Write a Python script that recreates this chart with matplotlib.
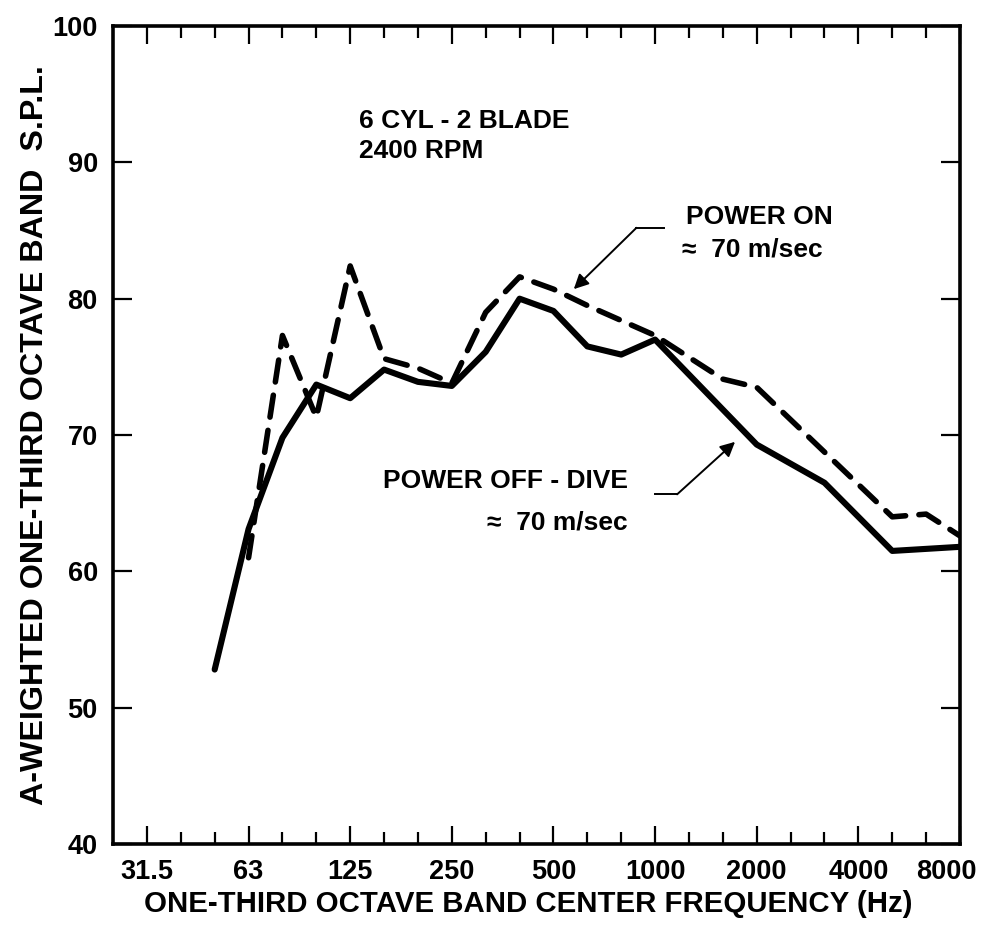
import matplotlib
matplotlib.use("Agg")
import matplotlib.pyplot as plt
from matplotlib.transforms import ScaledTranslation

# one-third octave band centres (Hz), one x slot each
bands = ["31.5", "40", "50", "63", "80", "100", "125", "160", "200", "250",
         "315", "400", "500", "630", "800", "1000", "1250", "1600", "2000",
         "2500", "3150", "4000", "5000", "6300", "8000"]
labelled_bands = ["31.5", "63", "125", "250", "500", "1000", "2000", "4000", "8000"]

# POWER OFF - DIVE (solid)
off_bands = ["50", "63", "80", "100", "125", "160", "200", "250", "315", "400",
             "500", "630", "800", "1000", "2000", "3150", "5000", "8000"]
off_spl = [52.8, 63.1, 69.8, 73.7, 72.7, 74.8, 73.9, 73.6, 76.1, 80.0,
           79.1, 76.5, 75.9, 77.0, 69.3, 66.5, 61.5, 61.8]

# POWER ON (dashed)
on_bands = ["63", "80", "100", "125", "160", "200", "250", "315", "400", "500",
            "630", "800", "1000", "1600", "2000", "5000", "6300", "8000"]
on_spl = [61.0, 77.3, 71.3, 82.4, 75.6, 74.9, 73.8, 79.0, 81.6, 80.7,
          79.5, 78.4, 77.3, 74.1, 73.5, 64.0, 64.2, 62.6]

yticks = [40, 50, 60, 70, 80, 90, 100]

plt.rcParams["font.family"] = ["Liberation Sans", "DejaVu Sans"]

fig = plt.figure(figsize=(9.83, 9.41), dpi=100)
ax = fig.add_axes([0.115, 0.103, 0.8616, 0.8694])

pos = {b: i for i, b in enumerate(bands)}
ax.plot([pos[b] for b in off_bands], off_spl, color="black", lw=4.4,
        solid_joinstyle="round", solid_capstyle="round")
ax.plot([pos[b] for b in on_bands], on_spl, color="black", lw=4.0,
        dashes=(4.0, 2.4), dash_capstyle="round")

ax.set_xlim(-1, 24)
ax.set_ylim(40, 100)

ax.set_xticks([pos[b] for b in labelled_bands])
ax.set_xticklabels(labelled_bands)
ax.set_xticks([i for i, b in enumerate(bands) if b not in labelled_bands], minor=True)
ax.set_yticks(yticks)
ax.set_yticklabels([str(v) for v in yticks])

ax.tick_params(axis="both", which="both", direction="in", top=True, right=True,
               width=1.6, color="black")
ax.tick_params(axis="x", which="major", length=13, pad=11, labelsize=19.5)
ax.tick_params(axis="x", which="minor", length=8.5)
ax.tick_params(axis="y", which="major", length=13.5, pad=11, labelsize=19.5)
for lab in ax.get_xticklabels() + ax.get_yticklabels():
    lab.set_fontweight("bold")
# the 8000 label sits a little left of the right-hand frame
last = ax.get_xticklabels()[-1]
last.set_transform(last.get_transform() + ScaledTranslation(-0.14, 0, fig.dpi_scale_trans))

for sp in ax.spines.values():
    sp.set_linewidth(2.6)

ax.set_xlabel("ONE-THIRD OCTAVE BAND CENTER FREQUENCY (Hz)", fontsize=21.2,
              fontweight="bold")
ax.xaxis.set_label_coords(0.49, -0.056)
ax.set_ylabel("A-WEIGHTED ONE-THIRD OCTAVE BAND  S.P.L.", fontsize=23.2,
              fontweight="bold")
ax.yaxis.set_label_coords(-0.075, 0.5)

txt = dict(fontsize=19, fontweight="bold", va="center")
ax.text(6.26, 93.05, "6 CYL - 2 BLADE", ha="left", **txt)
ax.text(6.26, 90.85, "2400 RPM", ha="left", **txt)

ax.text(15.9, 86.0, "POWER ON", ha="left", **txt)
ax.text(15.8, 83.6, "\u2248  70 m/sec", ha="left", **txt)
ax.annotate("", xy=(12.6, 80.7), xytext=(14.45, 85.2),
            arrowprops=dict(arrowstyle="-|>", color="black", lw=1.4,
                            mutation_scale=22, shrinkA=0, shrinkB=0))
ax.plot([14.45, 15.27], [85.2, 85.2], color="black", lw=1.4)

ax.text(14.2, 66.6, "POWER OFF - DIVE", ha="right", **txt)
ax.text(14.2, 63.6, "\u2248  70 m/sec", ha="right", **txt)
ax.annotate("", xy=(17.36, 69.5), xytext=(15.65, 65.65),
            arrowprops=dict(arrowstyle="-|>", color="black", lw=1.4,
                            mutation_scale=22, shrinkA=0, shrinkB=0))
ax.plot([15.0, 15.65], [65.65, 65.65], color="black", lw=1.4)

fig.savefig("out.png", dpi=100)
